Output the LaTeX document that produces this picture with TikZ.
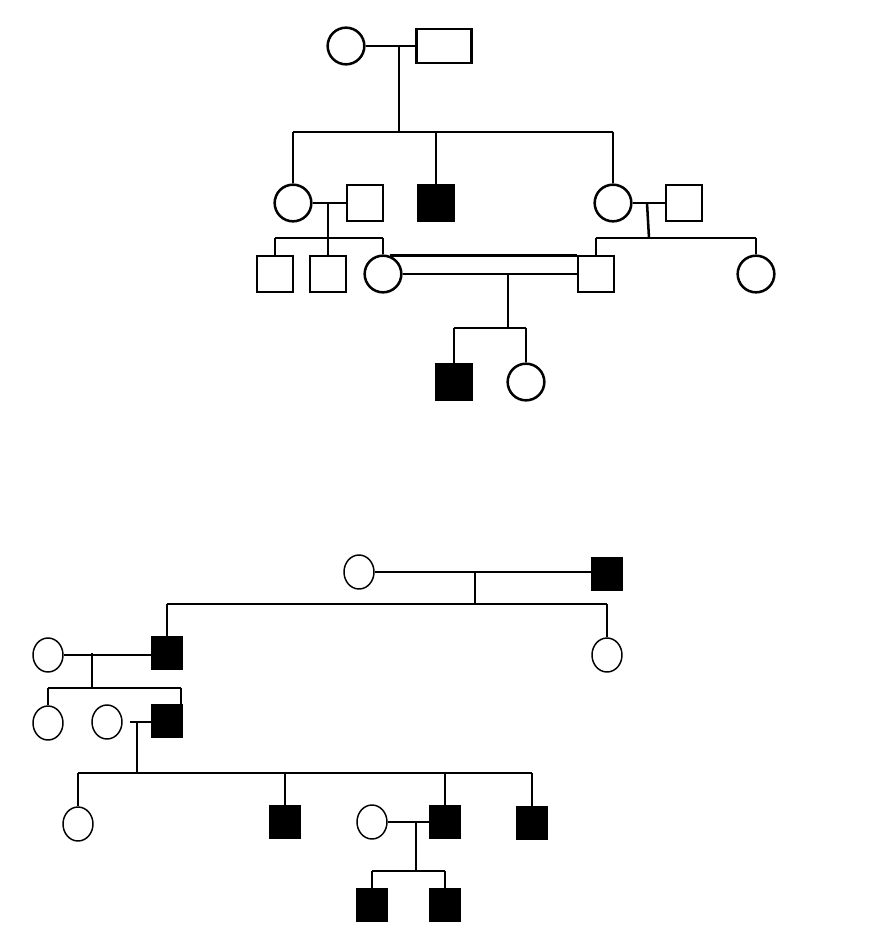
\documentclass[tikz,border=0pt]{standalone}
\usetikzlibrary{shapes.geometric,calc}
\begin{document}
\begin{tikzpicture}[x=0.75pt,y=-0.75pt,
  tline/.style={line width=1.9pt},
  bline/.style={line width=1.1pt},
  tfem/.style={circle,draw,line width=1.9pt,inner sep=0pt,minimum size=27.5pt},
  tmale/.style={rectangle,draw,line width=1.9pt,inner sep=0pt,minimum size=27.25pt},
  tmaleaff/.style={tmale,fill=black},
  bfem/.style={ellipse,draw,line width=1.1pt,inner sep=0pt,minimum width=22.5pt,minimum height=25.5pt},
  bmaleaff/.style={rectangle,draw,fill=black,line width=1.1pt,inner sep=0pt,minimum width=22.5pt,minimum height=24pt}]
\useasboundingbox[fill=white] (0,0) rectangle (868,943);
% ---------------- top pedigree ----------------
\node[tfem] (t1) at (346,46) {};
\node[tmale,minimum width=41.5pt,minimum height=25.5pt] (t2) at (444,46) {};
\node[tfem] (t3) at (293,203) {};
\node[tmale] (t4) at (365,203) {};
\node[tmaleaff] (t5) at (436,203) {};
\node[tfem] (t6) at (613,203) {};
\node[tmale] (t7) at (684,203) {};
\node[tmale] (t8) at (275,274) {};
\node[tmale] (t9) at (328,274) {};
\node[tfem] (t10) at (383,274) {};
\node[tmale] (t11) at (596,274) {};
\node[tfem] (t12) at (756,274) {};
\node[tmaleaff] (t13) at (454,382) {};
\node[tfem] (t14) at (526,382) {};
\coordinate (j1) at (399,46);
\coordinate (s1) at (399,132);
\coordinate (j2) at (328,203);
\coordinate (s2) at (328,238);
\coordinate (j3) at (647,203);
\coordinate (s3) at (649,238);
\coordinate (j4) at (508,274);
\coordinate (s4) at (508,328);
\draw[tline] (t1) -- (t2);
\draw[tline] (j1) -- (s1);
\draw[tline] (t3.north |- s1) -- (t6.north |- s1);
\draw[tline] (t3.north |- s1) -- (t3.north);
\draw[tline] (t5.north |- s1) -- (t5.north);
\draw[tline] (t6.north |- s1) -- (t6.north);
\draw[tline] (t3) -- (t4);
\draw[tline] (j2) -- (t9.north);
\draw[tline] (t8.north |- s2) -- (t10.north |- s2);
\draw[tline] (t8.north |- s2) -- (t8.north);
\draw[tline] (t10.north |- s2) -- (t10.north);
\draw[tline] (t6) -- (t7);
\draw[tline] (j3) -- (s3);
\draw[tline] (t11.north |- s3) -- (t12.north |- s3);
\draw[tline] (t11.north |- s3) -- (t11.north);
\draw[tline] (t12.north |- s3) -- (t12.north);
\draw[tline] (t10.70) -- (t10.70 -| t11.north west);
\draw[tline] (t10) -- (t11);
\draw[tline] (j4) -- (s4);
\draw[tline] (t13.north |- s4) -- (t14.north |- s4);
\draw[tline] (t13.north |- s4) -- (t13.north);
\draw[tline] (t14.north |- s4) -- (t14.north);
% ---------------- bottom pedigree ----------------
\node[bfem] (b1) at (359,572) {};
\node[bmaleaff] (b2) at (607,574) {};
\node[bmaleaff] (b3) at (167,653) {};
\node[bfem] (b4) at (607,655) {};
\node[bfem] (b5) at (48,655) {};
\node[bfem] (b6) at (48,723) {};
\node[bfem] (b7) at (107,722) {};
\node[bmaleaff] (b8) at (167,721) {};
\node[bfem] (b9) at (78,824) {};
\node[bmaleaff] (b10) at (285,822) {};
\node[bfem] (b11) at (372,822) {};
\node[bmaleaff] (b12) at (445,822) {};
\node[bmaleaff] (b13) at (532,823) {};
\node[bmaleaff] (b14) at (372,905) {};
\node[bmaleaff] (b15) at (445,905) {};
\coordinate (k1) at (475,572);
\coordinate (r1) at (475,604);
\coordinate (k2) at (92,653);
\coordinate (r2) at (92,688);
\coordinate (k3) at (137,722);
\coordinate (r3) at (137,773);
\coordinate (k4) at (416,822);
\coordinate (r4) at (416,871);
\coordinate (g1) at (130,722);
\coordinate (h8) at (181,688);
\draw[bline] (b1.east) -- (b1.east -| b2.west);
\draw[bline] (k1) -- (r1);
\draw[bline] (b3.north |- r1) -- (b4.north |- r1);
\draw[bline] (b3.north |- r1) -- (b3.north);
\draw[bline] (b4.north |- r1) -- (b4.north);
\draw[bline] (b5.east) -- (b5.east -| b3.west);
\draw[bline] (k2) -- (r2);
\draw[bline] (b6.north |- r2) -- (h8);
\draw[bline] (b6.north |- r2) -- (b6.north);
\draw[bline] (h8) -- (h8 |- b8.north);
\draw[bline] (g1) -- (g1 -| b8.west);
\draw[bline] (k3) -- (r3);
\draw[bline] (b9.north |- r3) -- (b13.north |- r3);
\draw[bline] (b9.north |- r3) -- (b9.north);
\draw[bline] (b10.north |- r3) -- (b10.north);
\draw[bline] (b12.north |- r3) -- (b12.north);
\draw[bline] (b13.north |- r3) -- (b13.north);
\draw[bline] (b11.east) -- (b11.east -| b12.west);
\draw[bline] (k4) -- (r4);
\draw[bline] (b14.north |- r4) -- (b15.north |- r4);
\draw[bline] (b14.north |- r4) -- (b14.north);
\draw[bline] (b15.north |- r4) -- (b15.north);
\end{tikzpicture}
\end{document}
